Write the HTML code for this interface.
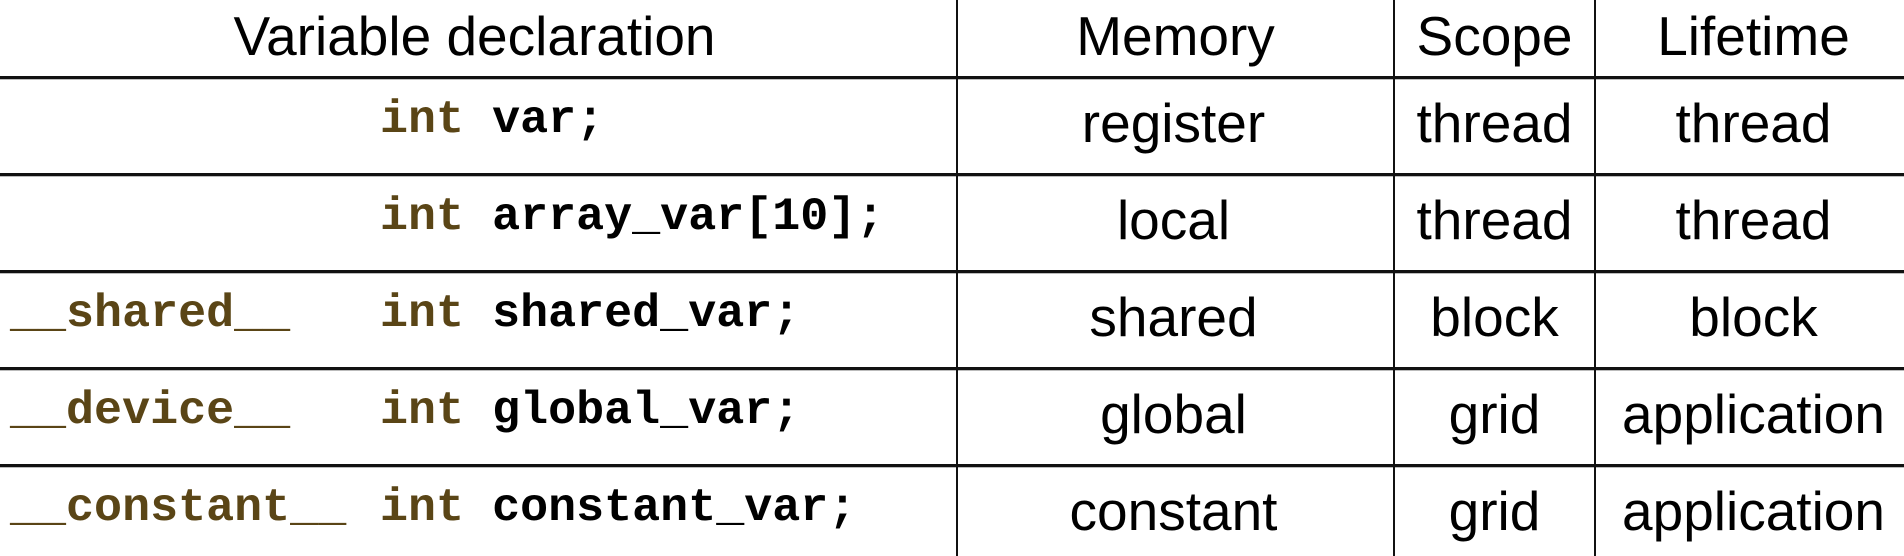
<!DOCTYPE html>
<html><head><meta charset="utf-8"><style>
html,body{margin:0;padding:0;background:#fff;}
#c{position:relative;width:1904px;height:556px;overflow:hidden;background:#fff;}
.h{position:absolute;left:0;width:1904px;height:3px;background:#111;box-shadow:0 1px 0 #bbb;}
.v{position:absolute;top:0;width:2px;height:556px;background:#111;}
.t{position:absolute;font-family:"Liberation Sans",sans-serif;font-size:55px;line-height:1;color:#000;text-align:center;white-space:nowrap;}
.m{position:absolute;font-family:"Liberation Mono",monospace;font-weight:bold;font-size:46.7px;line-height:1;color:#000;white-space:pre;}
.b{color:#5a4516;}
</style></head><body><div id="c">
<div class="h" style="top:76px"></div>
<div class="h" style="top:173px"></div>
<div class="h" style="top:270px"></div>
<div class="h" style="top:367px"></div>
<div class="h" style="top:464px"></div>
<div class="v" style="left:956px"></div>
<div class="v" style="left:1393px"></div>
<div class="v" style="left:1594px"></div>

<div class="t" style="left:-4px;width:957px;top:9px">Variable declaration</div>
<div class="t" style="left:957px;width:437px;top:9px">Memory</div>
<div class="t" style="left:1394px;width:201px;top:9px">Scope</div>
<div class="t" style="left:1599px;width:309px;top:9px">Lifetime</div>

<div class="m" style="left:380px;top:98px"><span class="b">int</span> var;</div>
<div class="m" style="left:380px;top:195px"><span class="b">int</span> array_var[10];</div>
<div class="m" style="left:10px;top:292px"><span class="b">__shared__</span></div>
<div class="m" style="left:380px;top:292px"><span class="b">int</span> shared_var;</div>
<div class="m" style="left:10px;top:389px"><span class="b">__device__</span></div>
<div class="m" style="left:380px;top:389px"><span class="b">int</span> global_var;</div>
<div class="m" style="left:10px;top:486px"><span class="b">__constant__</span></div>
<div class="m" style="left:380px;top:486px"><span class="b">int</span> constant_var;</div>

<div class="t" style="left:955px;width:437px;top:96px">register</div>
<div class="t" style="left:1394px;width:201px;top:96px">thread</div>
<div class="t" style="left:1599px;width:309px;top:96px">thread</div>

<div class="t" style="left:955px;width:437px;top:193px">local</div>
<div class="t" style="left:1394px;width:201px;top:193px">thread</div>
<div class="t" style="left:1599px;width:309px;top:193px">thread</div>

<div class="t" style="left:955px;width:437px;top:290px">shared</div>
<div class="t" style="left:1394px;width:201px;top:290px">block</div>
<div class="t" style="left:1599px;width:309px;top:290px">block</div>

<div class="t" style="left:955px;width:437px;top:387px">global</div>
<div class="t" style="left:1394px;width:201px;top:387px">grid</div>
<div class="t" style="left:1599px;width:309px;top:387px">application</div>

<div class="t" style="left:955px;width:437px;top:484px">constant</div>
<div class="t" style="left:1394px;width:201px;top:484px">grid</div>
<div class="t" style="left:1599px;width:309px;top:484px">application</div>
</div></body></html>
